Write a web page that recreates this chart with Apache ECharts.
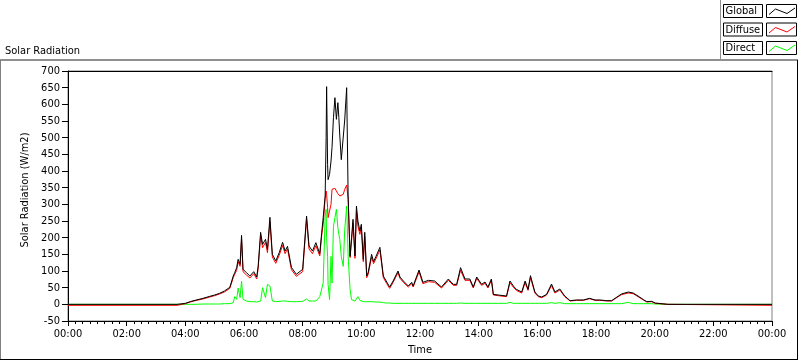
<!DOCTYPE html>
<html>
<head>
<meta charset="utf-8">
<script src="https://cdn.jsdelivr.net/npm/echarts@6/dist/echarts.min.js"></script>
<style>html,body{margin:0;padding:0;background:#fff;}#c{width:800px;height:361px;}</style>
</head>
<body>
<div id="c"></div>
<script>
const FONT = 'DejaVu Sans Condensed, Liberation Sans, sans-serif';
const chartTitle = 'Solar Radiation';
const yAxisName = 'Solar Radiation (W/m2)';
const xAxisName = 'Time';
const seriesNames = ['Global', 'Diffuse', 'Direct'];
const seriesColors = ['#000000', '#ff0000', '#00ff00'];

const times = [
 "00:00","03:43","03:45","04:00","04:10","04:20","04:36","04:50","05:00","05:10",
 "05:20","05:31","05:38","05:41","05:45","05:48","05:52","05:55","05:58","06:05",
 "06:12","06:20","06:26","06:29","06:34","06:38","06:44","06:48","06:53","06:58",
 "07:05","07:12","07:19","07:24","07:29","07:37","07:47","08:00","08:08","08:13",
 "08:20","08:27","08:35","08:39","08:42","08:46","08:48","08:49","08:51","08:52",
 "08:55","08:58","09:00","09:03","09:06","09:09","09:12","09:14","09:16","09:19",
 "09:23","09:26","09:30","09:33","09:37","09:40","09:43","09:47","09:50","09:53",
 "09:57","10:00","10:04","10:07","10:11","10:14","10:21","10:25","10:30","10:38",
 "10:41","10:45","10:52","10:58","11:05","11:15","11:19","11:26","11:36","11:43",
 "11:46","11:58","12:06","12:17","12:30","12:44","12:58","13:08","13:15","13:23",
 "13:32","13:42","13:49","13:56","14:06","14:13","14:19","14:26","14:30","14:40",
 "14:57","15:04","15:11","15:17","15:28","15:35","15:41","15:46","15:55","16:02",
 "16:09","16:19","16:29","16:36","16:46","16:56","17:07","17:20","17:34","17:47",
 "17:58","18:08","18:22","18:32","18:39","18:52","19:06","19:16","19:26","19:37",
 "19:44","19:54","20:01","20:05","20:27","20:28","24:00"
];
const globalW = [
 0,0,0,3,8,12,18,24,28,33,
 40,51,85,95,110,135,120,207,105,95,
 85,98,82,115,216,180,195,165,261,150,
 130,155,186,160,174,111,90,105,265,175,
 160,185,152,216,260,325,500,653,420,374,
 390,430,470,560,620,555,605,560,505,434,
 440,553,650,325,144,200,255,145,295,250,
 220,240,135,216,85,96,150,128,144,171,
 165,85,67,52,70,100,82,70,55,66,
 55,103,66,72,70,52,76,60,60,110,
 76,76,52,82,60,67,52,76,30,28,
 25,70,55,45,37,70,45,86,37,25,
 22,30,61,37,46,25,11,13,13,18,
 13,13,11,11,18,31,37,34,25,14,
 8,9,4,0,0,0,0
];
const diffuseW = [
 -3,-3,0,2,7,11,16,22,26,31,
 37,48,80,90,102,128,114,195,98,88,
 79,92,76,108,207,170,186,155,248,142,
 123,147,177,152,166,104,84,98,255,166,
 152,176,145,208,240,318,340,330,290,260,
 255,300,345,350,348,345,332,328,325,322,
 330,345,358,315,140,190,245,138,280,235,
 210,230,128,205,80,90,142,122,137,163,
 158,80,62,48,66,95,78,66,52,62,
 52,97,62,68,66,49,72,57,57,102,
 72,72,49,78,57,63,49,72,28,26,
 23,65,51,42,34,65,42,80,34,23,
 20,28,56,34,43,23,10,12,12,17,
 12,12,10,10,17,29,34,32,23,13,
 7,8,3,0,0,-3,-3
];
const directW = [
 0,0,0,0,0,0,1,1,1,1,
 2,2,5,23,15,49,20,70,15,10,
 8,8,7,8,10,50,20,60,55,10,
 8,9,10,10,9,8,8,9,16,10,
 10,10,23,23,64,264,285,200,144,60,
 14,144,64,234,260,285,230,210,194,144,
 114,224,295,144,44,14,12,10,12,23,
 12,10,8,8,8,8,8,7,7,7,
 6,5,4,4,3,3,3,3,3,3,
 3,3,3,3,3,3,3,3,3,4,
 3,3,3,3,3,3,3,3,3,3,
 3,6,3,3,3,3,3,3,3,3,
 3,3,5,3,5,2,2,2,2,2,
 2,2,2,2,2,2,6,2,2,2,
 2,2,1,0,0,0,0
];

function toMin(s){ const p = s.split(':').map(Number); return p[0]*60 + p[1]; }
function pairs(vals){ return times.map((t,i)=>[toMin(t), vals[i]]); }
function fmt(v){ const h = Math.floor(v/60) % 24, m = v % 60; return String(h).padStart(2,'0') + ':' + String(m).padStart(2,'0'); }

const chart = echarts.init(document.getElementById('c'), null, {renderer:'canvas'});

const legendEls = [];
seriesNames.forEach((n,i)=>{
  const y0 = 4.5 + i*18.5;
  legendEls.push({type:'rect', shape:{x:723.5,y:y0,width:39,height:13}, style:{fill:'#fff',stroke:'#000',lineWidth:1}, silent:true});
  legendEls.push({type:'text', x:725.5, y:y0+7, style:{text:n, fill:'#000', font:'11px '+FONT, textVerticalAlign:'middle'}, silent:true});
  legendEls.push({type:'rect', shape:{x:766.5,y:y0,width:30,height:13}, style:{fill:'#fff',stroke:'#000',lineWidth:1}, silent:true});
  legendEls.push({type:'polyline', shape:{points:[[769,y0+10],[775.5,y0+4.5],[787,y0+9],[795,y0+3.5]]}, style:{stroke:seriesColors[i],lineWidth:1,fill:null}, silent:true});
});

const option = {
  animation:false,
  backgroundColor:'#fff',
  textStyle:{fontFamily:FONT, fontSize:11, color:'#000'},
  grid:{left:68, right:28, top:71, bottom:40, show:true, borderColor:'#808080', borderWidth:1, backgroundColor:'transparent'},
  xAxis:[{
    type:'value', min:0, max:1440, interval:120,
    name:xAxisName, nameLocation:'middle', nameGap:24,
    nameTextStyle:{fontFamily:FONT, fontSize:11, color:'#000'},
    axisLine:{show:true, onZero:false, lineStyle:{color:'#000', width:1}},
    axisTick:{show:true, length:5, lineStyle:{color:'#000'}},
    minorTick:{show:true, splitNumber:8, length:3, lineStyle:{color:'#000'}},
    axisLabel:{formatter:fmt, fontFamily:FONT, fontSize:11, color:'#000', margin:8, showMaxLabel:true, showMinLabel:true, hideOverlap:false},
    splitLine:{show:false}, minorSplitLine:{show:false}
  },{
    type:'value', min:0, max:1440, position:'top',
    axisLine:{show:true, onZero:false, lineStyle:{color:'#000', width:1}},
    axisTick:{show:false}, axisLabel:{show:false}, splitLine:{show:false}
  }],
  yAxis:{
    type:'value', min:-50, max:700, interval:50,
    name:yAxisName, nameLocation:'middle', nameGap:30,
    nameTextStyle:{fontFamily:FONT, fontSize:11, color:'#000', padding:[0,0,0,12]},
    axisLine:{show:true, onZero:false, lineStyle:{color:'#000', width:1}},
    axisTick:{show:true, length:6, lineStyle:{color:'#000'}},
    axisLabel:{fontFamily:FONT, fontSize:11, color:'#000', margin:8, showMaxLabel:true, showMinLabel:true, hideOverlap:false},
    splitLine:{show:false}
  },
  series:[
    {name:seriesNames[2], type:'line', data:pairs(directW), showSymbol:false, symbol:'none', z:2, lineStyle:{color:seriesColors[2], width:1}, itemStyle:{color:seriesColors[2]}},
    {name:seriesNames[1], type:'line', data:pairs(diffuseW), showSymbol:false, symbol:'none', z:3, lineStyle:{color:seriesColors[1], width:1}, itemStyle:{color:seriesColors[1]}},
    {name:seriesNames[0], type:'line', data:pairs(globalW), showSymbol:false, symbol:'none', z:4, lineStyle:{color:seriesColors[0], width:1}, itemStyle:{color:seriesColors[0]}}
  ],
  graphic:[
    {type:'text', x:5, y:51, style:{text:chartTitle, fill:'#000', font:'11px '+FONT, textVerticalAlign:'middle'}, silent:true},
    {type:'line', shape:{x1:0,y1:60,x2:798,y2:60}, style:{stroke:'#909090', lineWidth:2}, silent:true},
    {type:'line', shape:{x1:0.5,y1:60,x2:0.5,y2:360}, style:{stroke:'#808080', lineWidth:1}, silent:true},
    {type:'line', shape:{x1:797.5,y1:60,x2:797.5,y2:360}, style:{stroke:'#000', lineWidth:1}, silent:true},
    {type:'line', shape:{x1:0,y1:359.5,x2:798,y2:359.5}, style:{stroke:'#000', lineWidth:1}, silent:true},
    {type:'line', shape:{x1:720.5,y1:0,x2:720.5,y2:60}, style:{stroke:'#909090', lineWidth:1}, silent:true}
  ].concat(legendEls)
};
chart.setOption(option);
</script>
</body>
</html>
